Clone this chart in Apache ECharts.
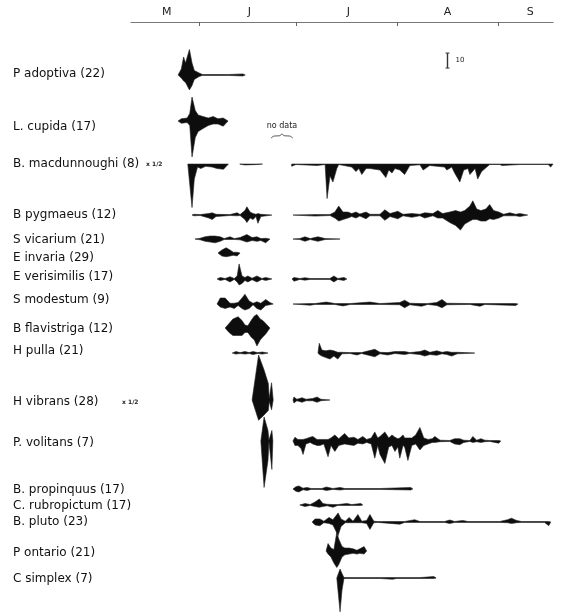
<!DOCTYPE html>
<html><head><meta charset="utf-8">
<script src="https://cdn.jsdelivr.net/npm/echarts@6/dist/echarts.min.js"></script>
<style>html,body{margin:0;padding:0;background:#fff}#c{width:564px;height:616px}</style>
</head><body><div id="c"></div>
<script>
// x: days since 1 May; y: abundance units (10 units = scale bar)
const monthTickDays = [31, 61, 92, 123];
const monthLabelDays = [21, 46.5, 77, 107.5, 133];
const monthLabels = ['M', 'J', 'J', 'A', 'S'];

const speciesNames = ['P adoptiva (22)', 'L. cupida (17)', 'B. macdunnoughi (8)', 'B pygmaeus (12)', 'S vicarium (21)',
  'E invaria (29)', 'E verisimilis (17)', 'S modestum (9)', 'B flavistriga (12)', 'H pulla (21)', 'H vibrans (28)',
  'P. volitans (7)', 'B. propinquus (17)', 'C. rubropictum (17)', 'B. pluto (23)', 'P ontario (21)', 'C simplex (7)'];
const scaleNotes = ['', '', 'x 1/2', '', '', '', '', '', '', '', 'x 1/2', '', '', '', '', '', ''];

// each species: list of sampling segments; point = [day, above, below]
const adoptiva = [[[24.5,0,0],[25.5,4,2],[26.2,12,4],[26.8,8,5],[28,17,10],[28.8,8,7],[29.5,3,3],[31,1.3,1],[32,0.3,0.3],[40,0.3,0.3],[44.5,0.7,0.7],[45.2,0,0]]];
const cupida = [[[24.5,0,0],[25.5,1.5,1.5],[27.3,2,1],[28.1,5,3],[28.8,16,24],[29.8,7,11],[30.7,4,7],[32.2,3,5],[33.8,2,3],[35.3,3,2],[36.8,1.5,2],[38.4,2,3.5],[39.9,0,0]]];
const macdunnoughi = [
  [[27.5,0,0],[28.3,0,18],[28.8,0,29],[29.5,0,10],[30.5,0,2],[31.5,0,3],[33,0,1.5],[35,0,2],[36.5,0,3],[38.5,0,3.5],[40,0,0]],
  [[43.5,0,0],[45,0,0.6],[48,0,0.4],[50.5,0,0]],
  [[59.5,0,1.5],[60.8,0,0.3],[67.3,0,1],[69.8,0,0.3],[70.4,0,23],[71.3,0,8],[72.2,0,12],[73.4,0,3],[74,0,0.3],[78,0,2],[79.3,0,5],[80.2,0,3],[81.1,0,7],[82.4,0,3],[83.6,0,3],[86.7,0,4],[88.5,0,9],[89.4,0,4],[90.4,0,6],[91.3,0,3],[92.8,0,4],[94.3,0,7],[95.9,0,1],[99,0,0.5],[100,0,4],[102,0,1],[106.6,0,2],[107.3,0,4],[108.8,0,2],[109.7,0,6],[111.3,0,12],[112.5,0,4],[113.8,0,3],[114.4,0,7],[116,0,3],[116.8,0,10],[118,0,5],[119.6,0,2],[120.5,0,0.3],[123.6,0,0.3],[124.3,0,1],[129.8,0,0.3],[138.5,0,0.3],[139.3,0,2],[140,0,0]]
];
const pygmaeus = [
  [[28.8,0,0],[29.4,0.5,0.5],[31.3,0.3,0.3],[34,1,2],[35,1.5,3],[36.2,0.5,1],[40.5,0.3,0.3],[42.7,1.5,0.5],[43.6,0.3,0.3],[45.1,3,3],[45.7,5.5,5],[46.7,2,2],[47.6,1,3],[48.5,0.5,1],[49.1,1,5.5],[50,0.5,1],[53.4,0,0]],
  [[59.9,0,0],[66.7,0.3,0.7],[71.3,0.3,0.3],[72.8,2,2],[74,6,4],[75.3,2,3],[76.8,2,2],[78,1,1],[79.3,2,2],[80.5,0.7,0.7],[82.4,2,2.5],[83.6,0.5,0.5],[86.7,0.5,0.5],[88.2,3.5,3.5],[89.8,1,1],[92.2,2.5,2.5],[93.8,0.5,0.5],[96.5,1,1.5],[99,0.5,0.5],[100.5,1.5,2],[103,1,0.5],[104.5,3,2],[106,1,2],[108.2,2,5],[110,3,7],[111.5,2,10],[112.8,3,6],[114.4,6,4],[115.3,9.5,3],[116.5,4,3],[117.8,3,4],[119.3,4,4],[120.5,7,2.5],[121.7,3,3],[123.3,2,2],[124.8,0.5,0.5],[126.7,1.5,0.5],[128.5,0.5,0.5],[129.8,1,1],[132.2,0,0]]
];
const vicarium = [
  [[29.7,0,0],[31.3,0.5,0.5],[32.8,1.5,1.5],[34.4,2,2],[35.9,2,2.5],[37.5,1.5,1.5],[38.7,0.3,0.3],[40.5,1.5,0.3],[41.8,0.3,0.3],[43.6,1,0.5],[45.7,3,2],[47.3,1,1],[48.8,1.5,1.5],[50,0.3,1],[51.5,0.5,2.5],[52.8,0,0]],
  [[59.9,0,0],[62,0.3,0.3],[63.6,1.5,1.5],[65.2,0.3,0.3],[67.6,1.5,1.5],[69.8,0.3,0.3],[74.4,0,0]]
];
const invaria = [[[36.8,0,0],[38,2,2],[39.3,3.5,2.5],[40.5,2,2],[41.5,0.5,1.5],[42.7,0.5,2],[43.6,0,0]]];
const verisimilis = [
  [[36.5,0,0],[37.5,1,1],[39,0.3,0.3],[40.5,1.5,2],[41.8,0.3,0.3],[42.7,2,2],[43.3,10,4],[44.2,2,3],[45.1,1,1],[46,2,2],[47.3,0.5,0.5],[48.8,2,2],[50.3,0.3,0.3],[51.5,1,1],[53.4,0,0]],
  [[59.6,0,0],[60.2,1,1.5],[62,0.3,0.3],[63.6,0.8,0.8],[65.2,0.3,0.3],[71.3,0.3,0.3],[72.5,2,2],[73.7,0.3,0.3],[75.6,1,1],[76.5,0,0]]
];
const modestum = [
  [[36.5,0,0],[37.5,4,2],[39,4,3],[40.5,0.5,2],[41.8,0.5,3],[43,1,1],[44.2,4,3],[45.1,6.5,4],[46.4,2,3],[47.6,0.5,0.5],[48.8,1.5,3],[50,0.5,4],[51.5,3,1],[52.8,1,0.5],[53.8,0,0]],
  [[59.9,0,0],[65.2,0.3,0.8],[66.7,0.3,0.3],[70.2,1.3,0.3],[72.8,0.3,0.3],[75.3,0.3,1.3],[77.5,0.3,0.3],[83.6,1.3,0.3],[86.7,0.3,0.3],[92.8,1,0.5],[94.3,2.5,2.5],[95.9,0.5,0.5],[99.5,0.3,1.5],[101.4,0.3,0.3],[104.2,1,1],[105.8,3,2.5],[107.3,0.5,0.5],[114.4,0.3,0.3],[117.5,0.3,1.5],[119,0.3,0.3],[128.5,0.3,1],[129.2,0,0]]
];
const flavistriga = [[[39,0,0],[40.2,3,3],[41.4,6,5],[43,7.5,5],[44.2,5,5],[45.1,2,3],[46,1.5,3],[47,5,6],[48,8,8],[48.8,9,12],[49.8,6,8],[50.6,5,6],[51.5,3,4],[52.8,0,0]]];
const pulla = [
  [[41.2,0,0],[42.3,1,0.7],[43.6,0.3,0.3],[45.1,1,0.7],[46.4,0.3,0.3],[47.6,1,1],[49,0.3,0.3],[50.5,0.7,0.7],[52.2,0,0]],
  [[67.6,0,0],[68,6.5,1],[68.8,2,2],[70,1.5,3],[71.3,2,4],[72.5,1.5,2],[73.7,0.5,4],[75,0.5,0.5],[77.5,0.3,0.3],[79.6,0.3,1.3],[81,0.3,0.3],[85.1,2.5,2.5],[86.7,0.5,0.5],[89.1,0.3,1.3],[91.3,1,0.3],[94.3,1,1],[95.9,0.3,0.3],[99,1,1],[100.5,2,2],[102.1,0.5,1],[104.2,1.5,1.5],[105.8,0.5,0.5],[107.3,1,1],[108.8,0.5,2],[110.5,0.5,0.5],[112.8,0.3,0.3],[115.9,0,0]]
];
const vibrans = [
  [[47.3,0,0],[49.3,30,13.5],[51,20,10],[52.3,11,7],[52.6,1,1],[53.3,11.5,6.5],[53.8,0,0]],
  [[59.9,0,0],[60.2,2,2],[61.1,0.5,0.5],[62.7,1.5,1.5],[63.9,0.5,0.5],[66,1,0.5],[67.3,2,1.5],[68.5,0.5,0.5],[71.3,0,0]]
];
const volitans = [
  [[50,0,0],[51,16,31],[52.2,7,13],[52.5,0.5,0.5],[53.4,7,19],[53.7,0,0]],
  [[59.9,0,0],[60.5,2.5,3],[61.4,1,3],[62.4,1,5],[63,1,9],[63.9,1.5,2],[65.2,2.5,1],[66,3,2],[67.3,1,3],[68.2,1,3],[69.4,1,2],[70.7,1,10.5],[71.6,2,3],[72.8,4,7],[74,1.5,3],[75.8,5,2],[77.1,2,2.5],[78.7,2.5,3],[79.9,1,1.5],[81.4,3,2],[82.6,1,1],[84,2,2],[85.1,6,11.5],[86,2,3],[86.7,3,9],[88.2,6,15],[89.4,2,4],[90.4,4,3],[91.3,2.5,7],[92.2,1.5,4],[92.8,2,11.5],[93.8,4,3],[94.3,2,4],[95.3,2,13],[96.5,2,3],[97.7,4,2],[99,9,6],[100.2,2,3],[101.5,1,2],[102.8,1.5,1],[103.6,3,1],[105.2,0.5,0.5],[108.2,0.3,0.3],[109.7,1.5,2],[111.3,1.5,2.5],[112.5,0.5,1],[114.4,0.3,0.3],[115.3,3,1],[116.5,0.5,0.5],[117.8,1.5,1],[119,0.5,0.5],[120.5,0.3,0.3],[123.3,0.3,1.5],[123.9,0,0]]
];
const propinquus = [[[59.9,0,0],[60.8,1.5,1.5],[61.7,2,2],[63,0.5,0.5],[64.2,1,1],[65.5,0.3,0.3],[68.8,0.3,0.3],[70.2,1.3,1],[72.2,0.3,0.3],[74.4,1,0.7],[75.9,0.3,0.3],[86.7,0.3,0.3],[96.2,1,0.7],[96.8,0,0]]];
const rubropictum = [[[62,0,0],[63.6,1,1],[65.2,0.3,0.3],[66.7,2,1],[68,4,1.5],[69.1,1,1],[70.4,0.5,0.5],[72.2,0.3,1.5],[73.7,0.3,0.3],[76.5,1,0.3],[78,0.3,0.3],[80.8,1,0.3],[81.4,0,0]]];
const pluto = [[[65.8,0,0],[66.7,2,2],[68.2,2,2.5],[69.4,0.5,0.5],[71,3,1],[72.2,1.5,2],[73.8,6,9],[74.7,2,3],[76,0.5,0.5],[77.2,3,0.5],[78.4,0.5,0.5],[79.9,5,0.5],[81.1,0.5,0.5],[82.6,1,1],[83.6,5,5],[84.8,0.5,0.5],[86,0.3,0.3],[92.8,0.3,1.5],[94.3,0.3,0.3],[97.4,1.5,0.3],[99,0.3,0.3],[106.6,0.3,0.3],[108.2,1.3,1],[109.7,0.3,0.3],[112.2,1,0.3],[113.8,0.3,0.3],[123.6,0.3,0.3],[126,1.5,0.5],[127.2,2.5,1],[128.8,1,0.5],[130.3,0.3,0.3],[137.4,0.3,0.3],[138.7,0.3,2.5],[139.3,0,0]]];
const ontario = [[[70.1,0,0],[70.7,5,2],[71.6,2,4],[72.5,1,8],[73.4,12.5,11],[74,8,9],[75,3,4],[75.9,2,2.5],[77.2,2,2],[78.4,1.5,1.5],[79.6,0.5,2],[80.5,1.5,1.5],[81.8,3,2],[82.6,0,0]]];
const simplex = [[[73.4,0,0],[74.4,6,22.5],[75,3,8],[75.6,0.3,0.3],[86.7,0.3,0.3],[90.6,0.3,0.8],[91.8,0.3,0.3],[99,0.3,0.3],[103.3,1,0.3],[104,0,0]]];

const speciesData = [adoptiva, cupida, macdunnoughi, pygmaeus, vicarium, invaria, verisimilis, modestum, flavistriga,
  pulla, vibrans, volitans, propinquus, rubropictum, pluto, ontario, simplex];

// layout: row baselines and label rows (y units)
const rowBaselines = [35.3, 66, 94.7, 128.7, 144.7, 154, 171.3, 188, 204, 220.7, 252, 279.3, 311.3, 322, 333.3, 352.7, 370.7];
const labelRows = [34.7, 70, 94.7, 128.7, 145.3, 157.3, 170, 185.3, 204.7, 219.3, 253.3, 280.7, 312, 322.7, 333.3, 354, 371.3];
const scaleBarValue = 10;

const FONT = 'DejaVu Sans, Liberation Sans, sans-serif';
const chart = echarts.init(document.getElementById('c'), null, {renderer: 'canvas'});

const series = speciesData.map((segs, s) => ({
  type: 'custom',
  name: speciesNames[s],
  coordinateSystem: 'cartesian2d',
  silent: true,
  data: segs.map(seg => [seg[0][0], rowBaselines[s]]),
  renderItem: function (params, api) {
    const seg = segs[params.dataIndex];
    const base = rowBaselines[s];
    const top = seg.map(p => api.coord([p[0], base - p[1]]));
    const bot = seg.slice().reverse().map(p => api.coord([p[0], base + p[2]]));
    return {
      type: 'polygon',
      shape: {points: top.concat(bot)},
      style: {fill: '#0d0d0d', stroke: '#222', lineWidth: 0.6}
    };
  }
}));

// scale bar
series.push({
  type: 'custom',
  coordinateSystem: 'cartesian2d',
  silent: true,
  data: [[107.5, 20.7]],
  renderItem: function (params, api) {
    const a = api.coord([api.value(0), api.value(1)]);
    const b = api.coord([api.value(0), api.value(1) + scaleBarValue]);
    return {
      type: 'group',
      children: [
        {type: 'line', shape: {x1: a[0], y1: a[1], x2: b[0], y2: b[1]}, style: {stroke: '#333', lineWidth: 1.4}},
        {type: 'line', shape: {x1: a[0] - 2, y1: a[1], x2: a[0] + 2, y2: a[1]}, style: {stroke: '#333', lineWidth: 1}},
        {type: 'line', shape: {x1: b[0] - 2, y1: b[1], x2: b[0] + 2, y2: b[1]}, style: {stroke: '#333', lineWidth: 1}},
        {type: 'text', style: {text: String(scaleBarValue), x: a[0] + 8, y: (a[1] + b[1]) / 2, fontSize: 7, fontFamily: FONT, fill: '#222', verticalAlign: 'middle'}}
      ]
    };
  }
});

const option = {
  backgroundColor: '#fff',
  animation: false,
  grid: {left: 131, right: 11, top: 22, bottom: 0, containLabel: false},
  xAxis: {
    type: 'value', position: 'top', min: 10, max: 140,
    axisLine: {show: true, lineStyle: {color: '#777', width: 1.2}},
    axisTick: {show: true, inside: true, length: 4, customValues: monthTickDays, lineStyle: {color: '#666', width: 1}},
    axisLabel: {show: true, customValues: monthLabelDays, margin: 4, fontSize: 11, fontFamily: FONT, color: '#222',
      formatter: v => monthLabels[monthLabelDays.indexOf(v)]},
    splitLine: {show: false}
  },
  yAxis: {
    type: 'value', inverse: true, min: 0, max: 396,
    axisLine: {show: false}, axisTick: {show: false}, splitLine: {show: false},
    axisLabel: {show: true, customValues: labelRows, align: 'left', margin: 118, fontSize: 12, fontFamily: FONT, color: '#111',
      formatter: v => speciesNames[labelRows.indexOf(v)]}
  },
  series: series
};
chart.setOption(option);

// annotations positioned via the axes
const gfx = [];
scaleNotes.forEach((n, i) => {
  if (!n) return;
  const p = chart.convertToPixel({gridIndex: 0}, [10, labelRows[i]]);
  gfx.push({type: 'text', x: i === 2 ? 146 : 122, y: p[1], style: {text: n, fontSize: 6, fontWeight: 'bold', fontFamily: FONT, fill: '#222', verticalAlign: 'middle'}});
});
const nd = chart.convertToPixel({gridIndex: 0}, [56.5, 69.5]);
gfx.push({type: 'text', x: nd[0], y: nd[1], style: {text: 'no data', fontSize: 8, fontFamily: FONT, fill: '#222', align: 'center', verticalAlign: 'middle'}});
const bx = nd[0], by = nd[1];
gfx.push({type: 'polyline', shape: {points: [[bx - 11, by + 12], [bx - 8, by + 9.8], [bx - 2, by + 9.5], [bx, by + 7.5], [bx + 2, by + 9.5], [bx + 8, by + 9.8], [bx + 11, by + 12]], smooth: 0.3},
  style: {fill: null, stroke: '#333', lineWidth: 0.8}});
chart.setOption({graphic: gfx});
</script>
</body></html>
